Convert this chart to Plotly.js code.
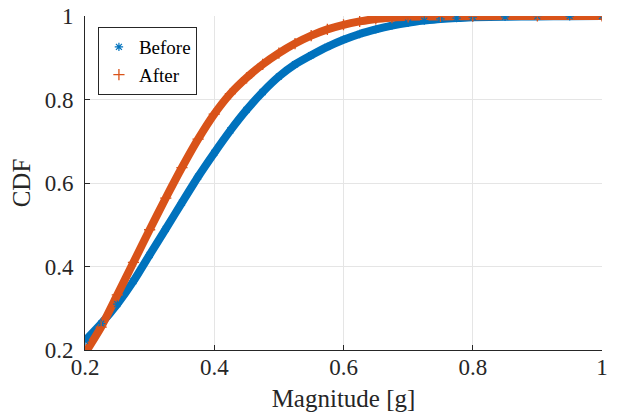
<!DOCTYPE html>
<html>
<head>
<meta charset="utf-8">
<script src="https://cdn.plot.ly/plotly-3.0.1.min.js"></script>
<style>html,body{margin:0;padding:0;background:#fff}#chart{width:617px;height:414px}</style>
</head>
<body>
<div id="chart"></div>
<script>
// Data
const seriesNames = ['Before', 'After'];
const beforeX = [0.200,0.225,0.250,0.275,0.300,0.325,0.350,0.375,0.400,0.425,0.450,0.475,0.500,0.525,0.550,0.575,0.600,0.625,0.650,0.675,0.700,0.725,0.750,0.775,0.800,0.850,0.900,0.950,1.000];
const beforeY = [0.222,0.263,0.310,0.365,0.428,0.490,0.553,0.615,0.672,0.726,0.775,0.818,0.855,0.884,0.906,0.926,0.943,0.957,0.968,0.977,0.984,0.989,0.993,0.995,0.997,0.998,0.999,0.9995,1.000];
const afterX = [0.200,0.225,0.250,0.275,0.300,0.325,0.350,0.375,0.400,0.425,0.450,0.475,0.500,0.525,0.550,0.575,0.600,0.625,0.650,0.675,0.700,0.750,0.800,0.900,1.000];
const afterY = [0.192,0.255,0.332,0.410,0.488,0.564,0.637,0.705,0.765,0.814,0.852,0.884,0.911,0.934,0.953,0.968,0.979,0.987,0.993,0.996,0.998,0.999,0.9995,1.000,1.000];
const xTicks = [0.2,0.4,0.6,0.8,1];
const xTickText = ['0.2','0.4','0.6','0.8','1'];
const yTicks = [0.2,0.4,0.6,0.8,1];
const yTickText = ['0.2','0.4','0.6','0.8','1'];

const blue = '#0072BD', orange = '#D95319';
const traces = [
  {x: beforeX, y: beforeY, mode: 'lines', line: {color: blue, width: 8, shape: 'spline', smoothing: 0.6}, showlegend: false, hoverinfo: 'skip'},
  {x: afterX, y: afterY, mode: 'lines', line: {color: orange, width: 8, shape: 'spline', smoothing: 0.6}, showlegend: false, hoverinfo: 'skip'},
  {x: beforeX, y: beforeY, mode: 'markers', name: seriesNames[0],
   marker: {symbol: 'asterisk-open', size: 7, color: blue, line: {color: blue, width: 1.2}}},
  {x: afterX, y: afterY, mode: 'markers', name: seriesNames[1],
   marker: {symbol: 'cross-thin-open', size: 8, color: orange, line: {color: orange, width: 1.3}}}
];

const fam = '"Liberation Serif", "Times New Roman", serif';
const tickFont = {family: fam, size: 23, color: '#262626'};
const titleFont = {family: fam, size: 25, color: '#262626'};
const layout = {
  width: 617, height: 414,
  margin: {l: 85, r: 15, t: 16, b: 64},
  paper_bgcolor: '#fff', plot_bgcolor: '#fff',
  font: tickFont,
  showlegend: true,
  legend: {x: 0.025, y: 0.967, xanchor: 'left', yanchor: 'top', bgcolor: '#fff',
           bordercolor: '#262626', borderwidth: 1, font: {family: fam, size: 19, color: '#000'},
           tracegroupgap: 0, itemwidth: 30},
  xaxis: {range: [0.2, 1], tickvals: xTicks, ticktext: xTickText, showgrid: true, gridcolor: '#e5e5e5',
          zeroline: false, showline: true, linecolor: '#262626', linewidth: 1, mirror: false,
          ticks: 'inside', ticklen: 5, tickcolor: '#262626', tickfont: tickFont, ticklabelstandoff: -4,
          title: {text: 'Magnitude [g]', font: titleFont, standoff: 10},
          automargin: false},
  yaxis: {range: [0.2, 1], tickvals: yTicks, ticktext: yTickText, showgrid: true, gridcolor: '#e5e5e5',
          zeroline: false, showline: true, linecolor: '#262626', linewidth: 1, mirror: false,
          ticks: 'inside', ticklen: 5, tickcolor: '#262626', tickfont: tickFont, ticklabelstandoff: 6,
          title: {text: 'CDF', font: titleFont, standoff: 6},
          automargin: false}
};
Plotly.newPlot('chart', traces, layout, {displayModeBar: false, staticPlot: true});
</script>
</body>
</html>
